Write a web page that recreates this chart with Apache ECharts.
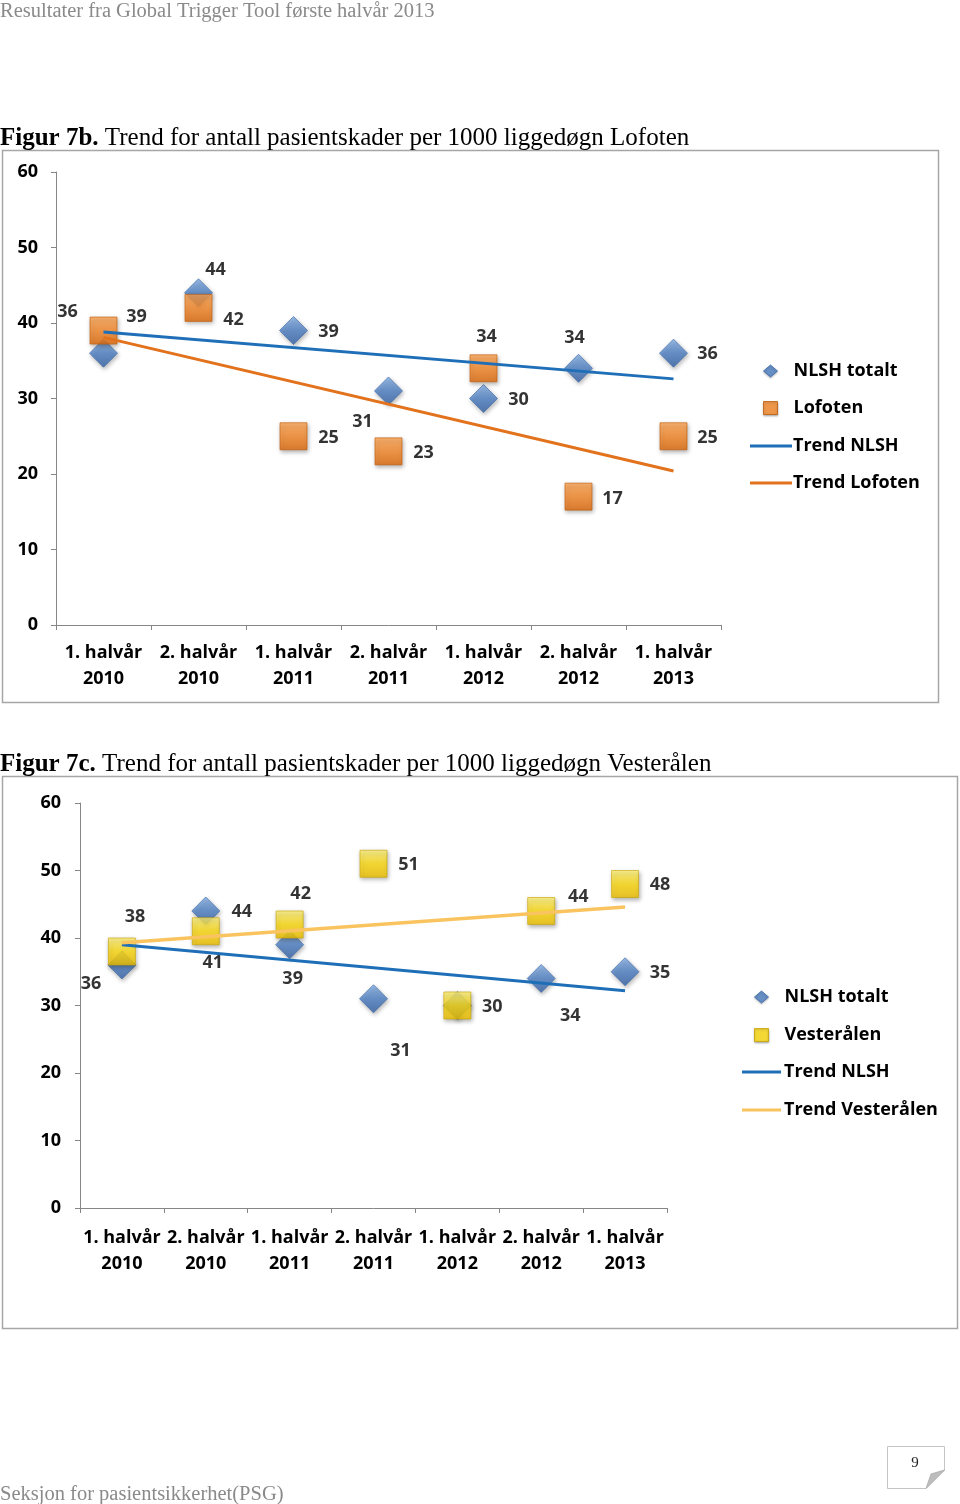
<!DOCTYPE html>
<html>
<head>
<meta charset="utf-8">
<script src="https://cdn.jsdelivr.net/npm/echarts@6/dist/echarts.min.js"></script>
<style>
html,body{margin:0;padding:0;background:#fff;}
#c{width:960px;height:1504px;}
</style>
</head>
<body>
<div id="c"></div>
<script>
// ---------- DATA ----------
const categories = ['1. halvår\n2010','2. halvår\n2010','1. halvår\n2011','2. halvår\n2011','1. halvår\n2012','2. halvår\n2012','1. halvår\n2013'];
const yTickMin = 0, yTickMax = 60, yTickStep = 10;

// Figur 7b (Lofoten)
const lofNLSH = [36, 44, 39, 31, 30, 34, 36];
const lofoten = [39, 42, 25, 23, 34, 17, 25];
const lofTrendNLSH = [38.8, 32.6];      // start (1. halvår 2010), end (1. halvår 2013)
const lofTrendLofoten = [38.1, 20.4];

// Figur 7c (Vesterålen)
const vesNLSH = [36, 44, 39, 31, 30, 34, 35];
const vesteralen = [38, 41, 42, 51, 30, 44, 48];
const vesTrendNLSH = [39.0, 32.2];
const vesTrendVes = [39.3, 44.6];

// ---------- LABEL PLACEMENT (style) ----------
const lofNLSHLabelOffset = [[-36,-41],[17,-23],[35,1],[-26,31],[35,1],[-4,-30],[34,1]];
const lofLabelOffset     = [[33,-14],[35,12],[35,2],[35,2],[3,-31],[34,2],[34,2]];
const vesNLSHLabelOffset = [[-31,19],[36,1],[3,34],[27,52],null,[29,37],[35,1]];
const vesLabelOffset     = [[13,-35],[7,32],[11,-31],[35,1],[35,1],[37,-14],[35,1]];

// ---------- STYLES ----------
const FONT = 'Open Sans';
const FS = 18;
const blueFill = new echarts.graphic.LinearGradient(0,0,0,1,[{offset:0,color:'#86b0e6'},{offset:0.5,color:'#4f82c6'},{offset:1,color:'#3562a6'}]);
const orangeFill = new echarts.graphic.LinearGradient(0,0,0,1,[{offset:0,color:'#ffa552'},{offset:0.5,color:'#f7892a'},{offset:1,color:'#e06a0a'}]);
const yellowFill = new echarts.graphic.LinearGradient(0,0,0,1,[{offset:0,color:'#fff27a'},{offset:0.5,color:'#ffdc10'},{offset:1,color:'#f2c200'}]);
const shadow = {shadowBlur:4, shadowOffsetX:1, shadowOffsetY:2, shadowColor:'rgba(0,0,0,0.35)'};

function pts(values, offsets){
  return values.map((v,i)=>{
    const o = offsets[i];
    return {value:v, label: o ? {show:true, position:'inside', offset:o} : {show:false}};
  });
}
const labelStyle = {color:'#000', fontFamily:FONT, fontWeight:'bold', fontSize:FS};

function axes(gi, yMargin, xMargin){
  return {
    x: {type:'category', gridIndex:gi, data:categories, boundaryGap:true,
        axisLine:{lineStyle:{color:'#868686', width:1}},
        axisTick:{show:true, length:5, lineStyle:{color:'#868686'}},
        axisLabel:{interval:0, color:'#000', fontFamily:FONT, fontWeight:'bold', fontSize:FS, lineHeight:26, margin:xMargin},
        splitLine:{show:false}},
    y: {type:'value', gridIndex:gi, min:yTickMin, max:yTickMax, interval:yTickStep,
        axisLine:{show:true, lineStyle:{color:'#868686', width:1}},
        axisTick:{show:true, length:5, lineStyle:{color:'#868686'}},
        axisLabel:{color:'#000', fontFamily:FONT, fontWeight:'bold', fontSize:FS, margin:yMargin},
        splitLine:{show:false}}
  };
}
const a1 = axes(0, 18, 15), a2 = axes(1, 19, 17);

// symbol legend: icon centred at cx, text starts at tx
function legendSymbol(name, cx, tx, cy, size, fill, border){
  const left = cx - 7;
  return {
    data:[name], left:left, top:cy-10, padding:0,
    itemWidth:14, itemHeight:size,
    itemStyle:{color:fill, borderColor:border, borderWidth:1, shadowBlur:2, shadowOffsetY:1, shadowColor:'rgba(0,0,0,0.3)'},
    textStyle:{color:'#000', fontFamily:FONT, fontWeight:'bold', fontSize:FS, lineHeight:24,
               padding:[0,0,0, tx - (left + 14 + 5)]},
    selectedMode:false
  };
}
// line legend: line from x0 with width w, text right after
function legendLine(name, x0, w, tx, cy){
  return {
    data:[name], left:x0, top:cy-10, padding:0,
    itemWidth:w, itemHeight:3, icon:'rect',
    textStyle:{color:'#000', fontFamily:FONT, fontWeight:'bold', fontSize:FS, lineHeight:24,
               padding:[0,0,0, tx - (x0 + w + 5)]},
    selectedMode:false
  };
}

const option = {
  animation:false,
  backgroundColor:'#fff',
  grid:[
    {left:56, top:172, width:665, height:453},
    {left:80, top:803, width:587, height:405}
  ],
  xAxis:[a1.x, a2.x],
  yAxis:[a1.y, a2.y],
  legend:[
    legendSymbol('NLSH totalt', 770, 793, 369, 12, '#4f82c6', '#3a68a8'),
    legendSymbol('Lofoten', 770, 793, 406, 13, '#f7892a', '#c05c08'),
    legendLine('Trend NLSH', 750, 42, 793, 444),
    legendLine('Trend Lofoten', 750, 42, 793, 481),
    legendSymbol('NLSH totalt ', 761, 784, 995, 12, '#4f82c6', '#3a68a8'),
    legendSymbol('Vesterålen', 761, 784, 1033, 13, '#ffdc10', '#c8a400'),
    legendLine('Trend NLSH ', 742, 39, 784, 1070),
    legendLine('Trend Vesterålen', 742, 39, 784, 1108)
  ],
  series:[
    {name:'NLSH totalt', type:'scatter', xAxisIndex:0, yAxisIndex:0, symbol:'diamond', symbolSize:28,
     itemStyle:Object.assign({color:blueFill, borderColor:'#3a68a8', borderWidth:0.8}, shadow),
     label:labelStyle, data:pts(lofNLSH, lofNLSHLabelOffset)},
    {name:'Lofoten', type:'scatter', xAxisIndex:0, yAxisIndex:0, symbol:'rect', symbolSize:27,
     itemStyle:Object.assign({color:orangeFill, borderColor:'#c05c08', borderWidth:0.8}, shadow),
     label:labelStyle, data:pts(lofoten, lofLabelOffset)},
    {name:'Trend NLSH', type:'line', xAxisIndex:0, yAxisIndex:0, symbol:'none', silent:true,
     lineStyle:{color:'#1f6fb8', width:3}, itemStyle:{color:'#1f6fb8'},
     data:[[0, lofTrendNLSH[0]], [categories.length-1, lofTrendNLSH[1]]]},
    {name:'Trend Lofoten', type:'line', xAxisIndex:0, yAxisIndex:0, symbol:'none', silent:true,
     lineStyle:{color:'#e2721c', width:3}, itemStyle:{color:'#e2721c'},
     data:[[0, lofTrendLofoten[0]], [categories.length-1, lofTrendLofoten[1]]]},

    {name:'NLSH totalt ', type:'scatter', xAxisIndex:1, yAxisIndex:1, symbol:'diamond', symbolSize:28,
     itemStyle:Object.assign({color:blueFill, borderColor:'#3a68a8', borderWidth:0.8}, shadow),
     label:labelStyle, data:pts(vesNLSH, vesNLSHLabelOffset)},
    {name:'Vesterålen', type:'scatter', xAxisIndex:1, yAxisIndex:1, symbol:'rect', symbolSize:27,
     itemStyle:Object.assign({color:yellowFill, borderColor:'#c8a400', borderWidth:0.8}, shadow),
     label:labelStyle, data:pts(vesteralen, vesLabelOffset)},
    {name:'Trend NLSH ', type:'line', xAxisIndex:1, yAxisIndex:1, symbol:'none', silent:true,
     lineStyle:{color:'#1f6fb8', width:3}, itemStyle:{color:'#1f6fb8'},
     data:[[0, vesTrendNLSH[0]], [categories.length-1, vesTrendNLSH[1]]]},
    {name:'Trend Vesterålen', type:'line', xAxisIndex:1, yAxisIndex:1, symbol:'none', silent:true,
     lineStyle:{color:'#f9c460', width:3.5}, itemStyle:{color:'#f9c460'},
     data:[[0, vesTrendVes[0]], [categories.length-1, vesTrendVes[1]]]}
  ],
  graphic:[
    {type:'text', left:0, top:1, style:{text:'Resultater fra Global Trigger Tool første halvår 2013', fill:'#8a8a8a', font:'20.5px "Liberation Serif"'}},
    {type:'text', left:0, top:126, style:{text:'{b|Figur 7b.} Trend for antall pasientskader per 1000 liggedøgn Lofoten', fill:'#000', font:'25px "Liberation Serif"', rich:{b:{fontWeight:'bold', fontSize:25, fontFamily:'Liberation Serif', fill:'#000'}}}},
    {type:'rect', shape:{x:2.5, y:150.5, width:936, height:552}, style:{fill:'none', stroke:'#a6a6a6', lineWidth:1.5}, z:-1},
    {type:'text', left:0, top:752, style:{text:'{b|Figur 7c.} Trend for antall pasientskader per 1000 liggedøgn Vesterålen', fill:'#000', font:'25px "Liberation Serif"', rich:{b:{fontWeight:'bold', fontSize:25, fontFamily:'Liberation Serif', fill:'#000'}}}},
    {type:'rect', shape:{x:2.5, y:776.5, width:955, height:552}, style:{fill:'none', stroke:'#a6a6a6', lineWidth:1.5}, z:-1},
    {type:'text', left:0, top:1484, style:{text:'Seksjon for pasientsikkerhet(PSG)', fill:'#8a8a8a', font:'20.5px "Liberation Serif"'}},
    {type:'polygon', shape:{points:[[887.5,1446.5],[944.5,1446.5],[944.5,1470],[926,1488.5],[887.5,1488.5]]}, style:{fill:'#fff', stroke:'#c4c4c4', lineWidth:1}},
    {type:'polygon', shape:{points:[[944.5,1470],[926,1488.5],[931,1474]]}, style:{fill:'#bdbdbd', stroke:'#a8a8a8', lineWidth:0.8}},
    {type:'text', x:915, y:1463, style:{text:'9', fill:'#222', font:'15px "Liberation Serif"', align:'center', verticalAlign:'middle'}}
  ]
};

const chart = echarts.init(document.getElementById('c'), null, {renderer:'canvas'});
chart.setOption(option);
</script>
</body>
</html>
